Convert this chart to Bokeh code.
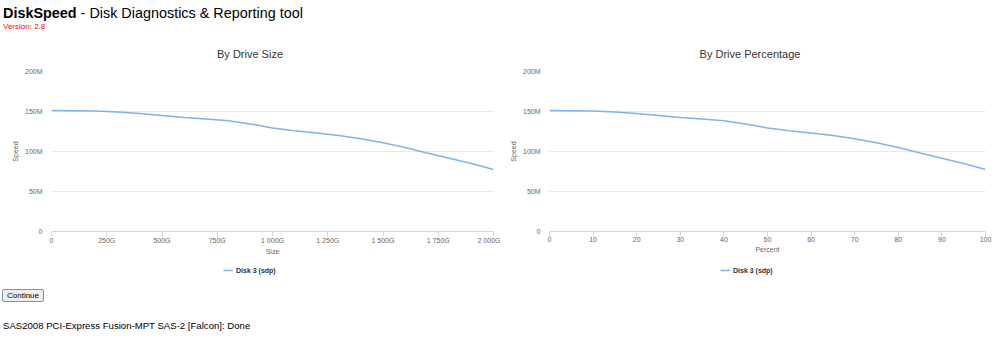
from bokeh.plotting import figure
from bokeh.models import Range1d, FixedTicker, Legend, LegendItem, Div
from bokeh.layouts import column, row
from bokeh.embed import file_html
from bokeh.resources import INLINE

# ---- data ----
size_gb = [0, 100, 200, 300, 400, 500, 600, 700, 800, 900, 1000,
           1100, 1200, 1300, 1400, 1500, 1600, 1700, 1800, 1900, 2000]
percent = [0, 5, 10, 15, 20, 25, 30, 35, 40, 45, 50,
           55, 60, 65, 70, 75, 80, 85, 90, 95, 100]
speed_mb = [151.2, 151.0, 150.5, 149.5, 147.5, 145.0, 142.5, 140.5, 138.5, 134.5, 129.5,
            126.0, 123.0, 120.0, 116.0, 111.0, 105.0, 98.0, 91.5, 85.0, 77.5]

size_ticks = [0, 250, 500, 750, 1000, 1250, 1500, 1750, 2000]
size_tick_labels = ["0", "250G", "500G", "750G", "1 000G", "1 250G", "1 500G", "1 750G", "2 000G"]
pct_ticks = [0, 10, 20, 30, 40, 50, 60, 70, 80, 90, 100]
pct_tick_labels = ["0", "10", "20", "30", "40", "50", "60", "70", "80", "90", "100"]
speed_ticks = [0, 50, 100, 150, 200]
speed_tick_labels = ["0", "50M", "100M", "150M", "200M"]

series_name = "Disk 3 (sdp)"
FONT = "Liberation Sans"
LINE_COLOR = "#7cb5ec"


def make_chart(title, xs, xmax, ticks, tick_labels, xlabel, left, right, legend_x):
    title_div = Div(width=500, height=22, margin=0, text=(
        "<div style='font-family:Liberation Sans, Arial, sans-serif; font-size:11px; line-height:13px; "
        "color:#333333; text-align:center; width:500px; padding-top:8px;'>" + title + "</div>"))

    p = figure(width=500, height=200, x_range=Range1d(0, xmax), y_range=Range1d(0, 200),
               output_backend="svg", toolbar_location=None,
               min_border_left=left, min_border_right=right,
               min_border_top=9, min_border_bottom=31)
    p.outline_line_color = None
    p.background_fill_color = "white"
    p.border_fill_color = "white"

    p.xgrid.visible = False
    p.ygrid.grid_line_color = "#e6e6e6"
    p.ygrid.grid_line_width = 1

    xa = p.xaxis[0]
    xa.ticker = FixedTicker(ticks=ticks)
    xa.major_label_overrides = {t: l for t, l in zip(ticks, tick_labels)}
    xa.axis_line_color = "#ccd6eb"
    xa.major_tick_line_color = "#ccd6eb"
    xa.major_tick_out = 5
    xa.major_tick_in = 0
    xa.minor_tick_line_color = None
    xa.major_label_standoff = 0
    xa.major_label_text_font = FONT
    xa.major_label_text_font_size = "7px"
    xa.major_label_text_color = "#666666"
    xa.axis_label = xlabel
    xa.axis_label_text_font = FONT
    xa.axis_label_text_font_size = "7px"
    xa.axis_label_text_font_style = "normal"
    xa.axis_label_text_color = "#666666"
    xa.axis_label_standoff = 1

    ya = p.yaxis[0]
    ya.ticker = FixedTicker(ticks=speed_ticks)
    ya.major_label_overrides = {t: l for t, l in zip(speed_ticks, speed_tick_labels)}
    ya.axis_line_color = None
    ya.major_tick_line_color = None
    ya.minor_tick_line_color = None
    ya.major_tick_out = 0
    ya.major_tick_in = 0
    ya.major_label_standoff = 9
    ya.major_label_text_font = FONT
    ya.major_label_text_font_size = "7px"
    ya.major_label_text_color = "#666666"
    ya.axis_label = "Speed"
    ya.axis_label_text_font = FONT
    ya.axis_label_text_font_size = "7px"
    ya.axis_label_text_font_style = "normal"
    ya.axis_label_text_color = "#666666"
    ya.axis_label_standoff = 3

    p.line(xs, speed_mb, line_color=LINE_COLOR, line_width=1.5)

    # legend strip below the chart (its own small figure so it is not clipped);
    # the key renderer holds the same series but lies outside this strip's view
    lf = figure(width=500, height=23, x_range=Range1d(-1e6, -1e6 + 1), y_range=Range1d(-1e6, -1e6 + 1),
                output_backend="svg", toolbar_location=None,
                min_border=0, x_axis_type=None, y_axis_type=None)
    lf.outline_line_color = None
    lf.xgrid.visible = False
    lf.ygrid.visible = False
    lf.background_fill_color = "white"
    lf.border_fill_color = "white"
    key = lf.line(xs, speed_mb, line_color=LINE_COLOR, line_width=1.5)
    legend = Legend(items=[LegendItem(label=series_name, renderers=[key])],
                    orientation="horizontal", location=(legend_x, 11))
    legend.label_text_font = FONT
    legend.label_text_font_size = "7px"
    legend.label_text_font_style = "bold"
    legend.label_text_color = "#333333"
    legend.glyph_width = 10
    legend.glyph_height = 8
    legend.label_height = 8
    legend.label_standoff = 3
    legend.padding = 0
    legend.margin = 0
    legend.border_line_color = None
    legend.background_fill_alpha = 0
    lf.add_layout(legend)
    return column(title_div, p, lf, spacing=0)


c1 = make_chart("By Drive Size", size_gb, 2000, size_ticks, size_tick_labels, "Size", 51, 7, 172)
c2 = make_chart("By Drive Percentage", percent, 100, pct_ticks, pct_tick_labels, "Percent", 49, 15, 171)

header = Div(width=1000, height=40, margin=0, text=(
    "<div style='font-family:Liberation Sans, Arial, sans-serif; margin:0; padding:5px 0 0 3px; color:#000;'>"
    "<div style='font-size:14.4px; line-height:16.5px;'><b>DiskSpeed</b> - Disk Diagnostics &amp; Reporting tool</div>"
    "<div style='font-size:8px; line-height:9.5px; color:#ff0000;'>Version: 2.8</div>"
    "</div>"))

footer = Div(width=1000, height=64, margin=0, text=(
    "<div style='font-family:Liberation Sans, Arial, sans-serif; margin:0; padding:4px 0 0 2px; color:#000;'>"
    "<div style='display:block; box-sizing:border-box; width:42px; height:13px; border:1px solid #8f8f8f; "
    "border-radius:2px; background:#efefef; font-size:8px; line-height:11px; text-align:center;'>Continue</div>"
    "<div style='font-size:9.6px; line-height:11px; margin-top:18px; padding-left:1px;'>"
    "SAS2008 PCI-Express Fusion-MPT SAS-2 [Falcon]: Done</div>"
    "</div>"))

layout = column(header, row(c1, c2, spacing=0), footer, spacing=0)

with open("out.html", "w") as f:
    f.write(file_html(layout, INLINE))
